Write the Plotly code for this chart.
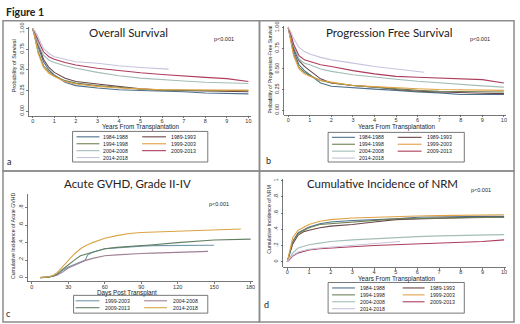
import plotly.graph_objects as go

W, H = 520, 324

# ---------------- data ----------------
cohorts = ["1984-1988", "1989-1993", "1994-1998", "1999-2003", "2004-2008", "2009-2013", "2014-2018"]
cohort_colors = ["#4d708c", "#6a4648", "#6f8055", "#e0a244", "#a3bdb8", "#ad3d5c", "#c6c4dc"]

t_years = [0, 0.1, 0.25, 0.5, 0.75, 1, 1.5, 2, 3, 4, 5, 6, 7, 8, 9, 10]
t_years_2014 = [0, 0.1, 0.25, 0.5, 0.75, 1, 1.5, 2, 3, 4, 5, 6, 6.3]
t_years_2014_nrm = [0, 0.1, 0.25, 0.5, 0.75, 1, 1.5, 2, 3, 4, 5, 5.2]

# Overall survival
os_1984 = [1, 0.93, 0.78, 0.60, 0.50, 0.44, 0.35, 0.31, 0.28, 0.26, 0.25, 0.245, 0.235, 0.22, 0.215, 0.21]
os_1989 = [1, 0.93, 0.80, 0.63, 0.53, 0.47, 0.40, 0.36, 0.33, 0.30, 0.27, 0.255, 0.25, 0.245, 0.24, 0.235]
os_1994 = [1, 0.90, 0.72, 0.55, 0.48, 0.43, 0.37, 0.34, 0.31, 0.29, 0.265, 0.255, 0.25, 0.25, 0.25, 0.25]
os_1999 = [1, 0.90, 0.70, 0.53, 0.46, 0.42, 0.36, 0.33, 0.30, 0.28, 0.27, 0.26, 0.26, 0.255, 0.255, 0.255]
os_2004 = [1, 0.95, 0.82, 0.68, 0.62, 0.59, 0.55, 0.52, 0.47, 0.43, 0.40, 0.38, 0.365, 0.35, 0.345, 0.335]
os_2009 = [1, 0.96, 0.86, 0.72, 0.66, 0.63, 0.59, 0.56, 0.52, 0.49, 0.465, 0.445, 0.425, 0.41, 0.395, 0.36]
os_2014 = [1, 0.97, 0.90, 0.76, 0.70, 0.66, 0.63, 0.60, 0.58, 0.55, 0.53, 0.51, 0.51]

# Progression-free survival
pfs_1984 = [1, 0.90, 0.72, 0.55, 0.48, 0.43, 0.33, 0.29, 0.27, 0.255, 0.24, 0.22, 0.21, 0.19, 0.19, 0.19]
pfs_1989 = [1, 0.90, 0.75, 0.60, 0.53, 0.48, 0.38, 0.33, 0.30, 0.28, 0.25, 0.23, 0.22, 0.21, 0.205, 0.20]
pfs_1994 = [1, 0.88, 0.68, 0.52, 0.46, 0.42, 0.36, 0.33, 0.30, 0.28, 0.26, 0.24, 0.23, 0.225, 0.22, 0.22]
pfs_1999 = [1, 0.87, 0.66, 0.50, 0.44, 0.41, 0.36, 0.34, 0.30, 0.285, 0.27, 0.26, 0.25, 0.245, 0.24, 0.24]
pfs_2004 = [1, 0.93, 0.78, 0.62, 0.57, 0.55, 0.50, 0.47, 0.43, 0.40, 0.375, 0.35, 0.33, 0.31, 0.295, 0.28]
pfs_2009 = [1, 0.94, 0.80, 0.66, 0.61, 0.59, 0.55, 0.53, 0.48, 0.44, 0.41, 0.40, 0.39, 0.38, 0.37, 0.33]
pfs_2014 = [1, 0.96, 0.87, 0.76, 0.71, 0.68, 0.64, 0.61, 0.57, 0.53, 0.50, 0.47, 0.46]

# Acute GVHD grade II-IV (days)
gvhd_cohorts = ["1999-2003", "2004-2008", "2009-2013", "2014-2018"]
gvhd_colors = ["#7098a8", "#a08094", "#627f62", "#d9a441"]
d_1999 = [7, 14, 18, 21, 25, 30, 35, 40, 44, 46, 50, 60, 70, 80, 90, 100, 120, 150]
g_1999 = [0, 0.005, 0.02, 0.04, 0.08, 0.12, 0.15, 0.18, 0.20, 0.26, 0.29, 0.33, 0.34, 0.355, 0.36, 0.365, 0.37, 0.37]
d_2004 = [7, 14, 18, 21, 25, 30, 35, 40, 45, 50, 60, 70, 80, 90, 100, 120, 145]
g_2004 = [0, 0.005, 0.015, 0.03, 0.06, 0.11, 0.14, 0.17, 0.20, 0.22, 0.25, 0.26, 0.27, 0.275, 0.28, 0.29, 0.30]
d_2009 = [7, 14, 18, 21, 25, 30, 35, 40, 45, 50, 60, 70, 80, 90, 100, 120, 150, 180]
g_2009 = [0, 0.005, 0.02, 0.04, 0.09, 0.15, 0.20, 0.25, 0.27, 0.29, 0.33, 0.345, 0.355, 0.36, 0.375, 0.40, 0.43, 0.44]
d_2014 = [7, 14, 18, 21, 25, 30, 35, 40, 45, 50, 60, 70, 80, 90, 100, 120, 150, 172]
g_2014 = [0, 0.01, 0.03, 0.06, 0.12, 0.20, 0.27, 0.33, 0.37, 0.40, 0.45, 0.48, 0.505, 0.515, 0.52, 0.535, 0.545, 0.555]

# Cumulative incidence of NRM
nrm_1984 = [0, 0.10, 0.25, 0.36, 0.40, 0.43, 0.47, 0.49, 0.51, 0.52, 0.53, 0.55, 0.555, 0.56, 0.56, 0.56]
nrm_1989 = [0, 0.08, 0.22, 0.33, 0.37, 0.39, 0.42, 0.44, 0.46, 0.49, 0.52, 0.53, 0.54, 0.545, 0.55, 0.55]
nrm_1994 = [0, 0.10, 0.25, 0.35, 0.39, 0.42, 0.46, 0.47, 0.49, 0.51, 0.53, 0.535, 0.54, 0.545, 0.55, 0.55]
nrm_1999 = [0, 0.12, 0.30, 0.39, 0.43, 0.46, 0.50, 0.52, 0.54, 0.55, 0.56, 0.565, 0.57, 0.575, 0.58, 0.58]
nrm_2004 = [0, 0.05, 0.11, 0.17, 0.19, 0.21, 0.23, 0.25, 0.27, 0.285, 0.30, 0.31, 0.32, 0.325, 0.33, 0.335]
nrm_2009 = [0, 0.03, 0.07, 0.11, 0.13, 0.145, 0.16, 0.17, 0.185, 0.20, 0.21, 0.22, 0.23, 0.24, 0.25, 0.27]
nrm_2014 = [0, 0.04, 0.08, 0.12, 0.14, 0.155, 0.17, 0.18, 0.20, 0.22, 0.24, 0.25]

# tick labels
surv_tickvals = [0, 0.25, 0.5, 0.75, 1]
surv_ticktext = ["0.00", "0.25", "0.50", "0.75", "1.00"]
gvhd_tickvals = [0, 0.2, 0.4, 0.6, 0.8]
gvhd_ticktext = ["0", ".2", ".4", ".6", ".8"]
nrm_tickvals = [0, 0.2, 0.4, 0.6, 0.8, 1]
nrm_ticktext = ["0", ".2", ".4", ".6", ".8", "1"]
day_tickvals = [0, 30, 60, 90, 120, 150, 180]

# ---------------- figure ----------------
def px(x):
    return x / W

def py(y):
    return 1 - y / H

fig = go.Figure()

def add_curves(xs_list, ys_list, colors, xa, ya):
    for xs, ys, c in zip(xs_list, ys_list, colors):
        fig.add_trace(go.Scatter(x=xs, y=ys, mode="lines", line=dict(color=c, width=1.1),
                                 xaxis=xa, yaxis=ya, showlegend=False, hoverinfo="skip"))

add_curves([t_years] * 6 + [t_years_2014],
           [os_1984, os_1989, os_1994, os_1999, os_2004, os_2009, os_2014], cohort_colors, "x", "y")
add_curves([t_years] * 6 + [t_years_2014],
           [pfs_1984, pfs_1989, pfs_1994, pfs_1999, pfs_2004, pfs_2009, pfs_2014], cohort_colors, "x2", "y2")
add_curves([d_1999, d_2004, d_2009, d_2014], [g_1999, g_2004, g_2009, g_2014], gvhd_colors, "x3", "y3")
add_curves([t_years] * 6 + [t_years_2014_nrm],
           [nrm_1984, nrm_1989, nrm_1994, nrm_1999, nrm_2004, nrm_2009, nrm_2014], cohort_colors, "x4", "y4")

TICKF = dict(family="Liberation Sans", size=5.5, color="#333")
AX = dict(showgrid=False, zeroline=False, showline=True, linecolor="#555", linewidth=0.8,
          ticks="outside", ticklen=2, tickwidth=0.8, tickcolor="#555", tickfont=TICKF, fixedrange=True)
XAX = dict(AX, ticklabelstandoff=-2)

fig.update_layout(
    xaxis=dict(XAX, domain=[px(29), px(252)], range=[-0.18, 10.1], tickvals=list(range(11)), anchor="y"),
    yaxis=dict(AX, domain=[py(113), py(23)], range=[-0.054, 1.024], tickvals=surv_tickvals,
               ticktext=surv_ticktext, tickangle=-90, anchor="x"),
    xaxis2=dict(XAX, domain=[px(286), px(509)], range=[-0.18, 10.1], tickvals=list(range(11)), anchor="y2"),
    yaxis2=dict(AX, domain=[py(112), py(22)], range=[-0.054, 1.024], tickvals=surv_tickvals,
                ticktext=surv_ticktext, tickangle=-90, anchor="x2"),
    xaxis3=dict(XAX, domain=[px(28), px(254)], range=[-3.27, 181.6], tickvals=day_tickvals, anchor="y3"),
    yaxis3=dict(AX, domain=[py(281), py(192)], range=[-0.045, 0.96], tickvals=gvhd_tickvals,
                ticktext=gvhd_ticktext, tickangle=-90, anchor="x3"),
    xaxis4=dict(XAX, domain=[px(285), px(509)], range=[-0.183, 10.09], tickvals=list(range(11)), anchor="y4"),
    yaxis4=dict(AX, domain=[py(266), py(177)], range=[-0.061, 1.024], tickvals=nrm_tickvals,
                ticktext=nrm_ticktext, tickangle=-90, anchor="x4"),
)

shapes = []
annotations = []

def ann(x, y, text, size, xanchor="center", yanchor="middle", angle=0, family="Liberation Sans",
        color="#222"):
    annotations.append(dict(x=px(x), y=py(y), xref="paper", yref="paper", text=text, showarrow=False,
                            xanchor=xanchor, yanchor=yanchor, textangle=angle,
                            font=dict(family=family, size=size, color=color)))

# panel borders
for (x0, y0, x1, y1) in [(3, 17, 261, 169), (261, 17, 517, 169), (3, 169, 261, 322), (261, 169, 517, 322)]:
    shapes.append(dict(type="rect", xref="paper", yref="paper", x0=px(x0), x1=px(x1), y0=py(y0), y1=py(y1),
                       line=dict(color="#8c8c8c", width=1.5)))

ann(4, 8, "<b>Figure 1</b>", 10.5, xanchor="left", family="Lato")

# titles
ann(129, 29, "Overall Survival", 11.5, family="Lato")
ann(392, 29, "Progression Free Survival", 11.5, family="Lato")
ann(128, 182, "Acute GVHD, Grade II-IV", 11.5, family="Lato")
ann(385, 182, "Cumulative Incidence of NRM", 11.5, family="Lato")

# p-values
ann(225, 35, "p<0.001", 5.5)
ann(483, 35, "p<0.001", 5.5)
ann(220, 203, "p<0.001", 5.5)
ann(484, 188, "p<0.001", 5.5)

# axis titles
ann(142, 124.5, "Years From Transplantation", 6.3)
ann(399, 124.5, "Years From Transplantation", 6.3)
ann(128, 292.5, "Days Post Transplant", 6.3)
ann(399, 278, "Years From Transplantation", 6.3)
ann(14, 62, "Probability of Survival", 5.5, angle=-90)
ann(272, 66, "Probability of Progression-Free Survival", 5.0, angle=-90)
ann(13, 235, "Cumulative Incidence of Acute GVHD", 5.2, angle=-90)
ann(271, 218, "Cumulative Incidence of NRM", 5.2, angle=-90)

# panel letters
ann(9, 159, "a", 9, family="Lato")
ann(270, 158, "b", 9, family="Lato")
ann(9, 313, "c", 9, family="Lato")
ann(268, 304, "d", 9, family="Lato")

def add_legend(box, labels, colors, cols, row0, dy):
    x0, y0, x1, y1 = box
    shapes.append(dict(type="rect", xref="paper", yref="paper", x0=px(x0), x1=px(x1), y0=py(y0), y1=py(y1),
                       line=dict(color="#555", width=0.8), fillcolor="white", layer="above"))
    for i, (lab, c) in enumerate(zip(labels, colors)):
        col = cols[i % 2]
        yy = row0 + (i // 2) * dy
        shapes.append(dict(type="line", xref="paper", yref="paper", x0=px(col[0]), x1=px(col[1]),
                           y0=py(yy), y1=py(yy), line=dict(color=c, width=1.1)))
        ann(col[2], yy, lab, 5.2, xanchor="left")

add_legend((73, 129, 209, 160), cohorts, cohort_colors, [(77, 100, 102), (143, 167, 170)], 134.5, 7)
add_legend((330, 130, 467, 160), cohorts, cohort_colors, [(334, 357, 359), (400, 424, 427)], 135, 7)
add_legend((74, 295, 209, 313), gvhd_cohorts, gvhd_colors, [(76, 100, 104), (145, 168, 172)], 300.5, 7)
add_legend((330, 282, 467, 313), cohorts, cohort_colors, [(334, 357, 360), (405, 427, 430)], 287.5, 7)

fig.update_layout(
    width=W, height=H, margin=dict(l=0, r=0, t=0, b=0, pad=0),
    paper_bgcolor="white", plot_bgcolor="white",
    shapes=shapes, annotations=annotations, showlegend=False,
)

fig.write_html("out.html", config={"displayModeBar": False, "staticPlot": True},
               post_script="document.body.style.margin='0px';document.body.style.padding='0px';"
                           "document.body.style.overflow='hidden';")
